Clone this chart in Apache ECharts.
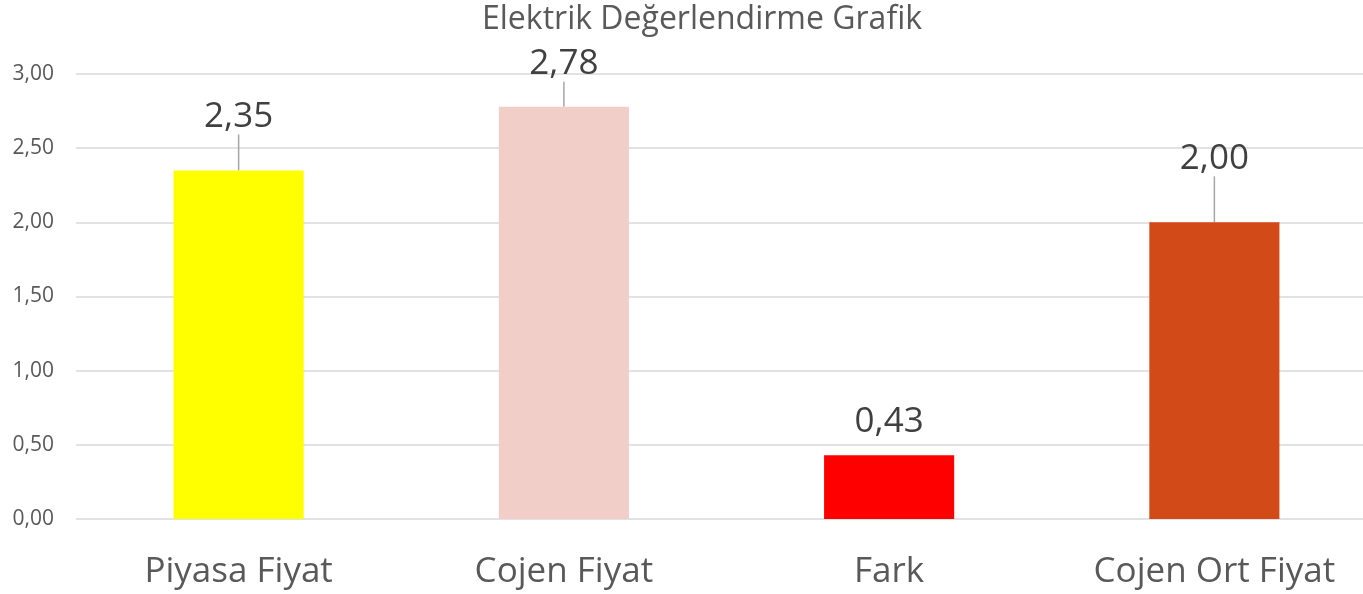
<!DOCTYPE html>
<html>
<head>
<meta charset="utf-8">
<script src="https://cdn.jsdelivr.net/npm/echarts@6/dist/echarts.min.js"></script>
<style>
  html, body { margin: 0; padding: 0; background: #fff; overflow: hidden; }
  #chart { width: 1380px; height: 594px; }
</style>
</head>
<body>
<div id="chart"></div>
<script>
const categories = ['Piyasa Fiyat', 'Cojen Fiyat', 'Fark', 'Cojen Ort Fiyat']
const values = [2.35, 2.78, 0.43, 2.00]
const barColors = ['#ffff00', '#f2cec9', '#ff0000', '#d24a17']

// manual label offsets (px), like the hand-placed labels in the original
const labelShift = [-31, -20, -11, -41]
const showLeader = [true, true, false, true]

const fmt = v => Number(v).toFixed(2).replace('.', ',')
const font = '"Open Sans", "Noto Sans", sans-serif'

const chart = echarts.init(document.getElementById('chart'))
chart.setOption({
  animation: false,
  title: {
    text: 'Elektrik Değerlendirme Grafik',
    left: 477,
    top: -1,
    textStyle: { fontFamily: font, fontSize: 32, fontWeight: 'normal', color: '#595959' }
  },
  grid: { left: 76, top: 74, width: 1301, height: 445, containLabel: false },
  xAxis: {
    type: 'category',
    data: categories,
    axisLine: { show: false },
    axisTick: { show: false },
    axisLabel: { fontFamily: font, fontSize: 35, color: '#595959', margin: 36 }
  },
  yAxis: {
    type: 'value',
    min: 0,
    max: 3,
    interval: 0.5,
    axisLine: { show: false },
    axisTick: { show: false },
    axisLabel: { fontFamily: font, fontSize: 21, color: '#595959', margin: 22, formatter: fmt },
    splitLine: { lineStyle: { color: '#d9d9d9', width: 1.5 } }
  },
  series: [{
    type: 'bar',
    barWidth: '40%',
    data: values.map((v, i) => ({
      value: v,
      itemStyle: { color: barColors[i] },
      labelLine: { show: showLeader[i] }
    })),
    label: {
      show: true,
      position: 'top',
      distance: 5,
      fontFamily: font,
      fontSize: 35,
      color: '#404040',
      formatter: p => fmt(p.value)
    },
    labelLine: { show: true, lineStyle: { color: '#a6a6a6', width: 1.5 } },
    labelLayout: p => ({ dy: labelShift[p.dataIndex] })
  }]
})
</script>
</body>
</html>
